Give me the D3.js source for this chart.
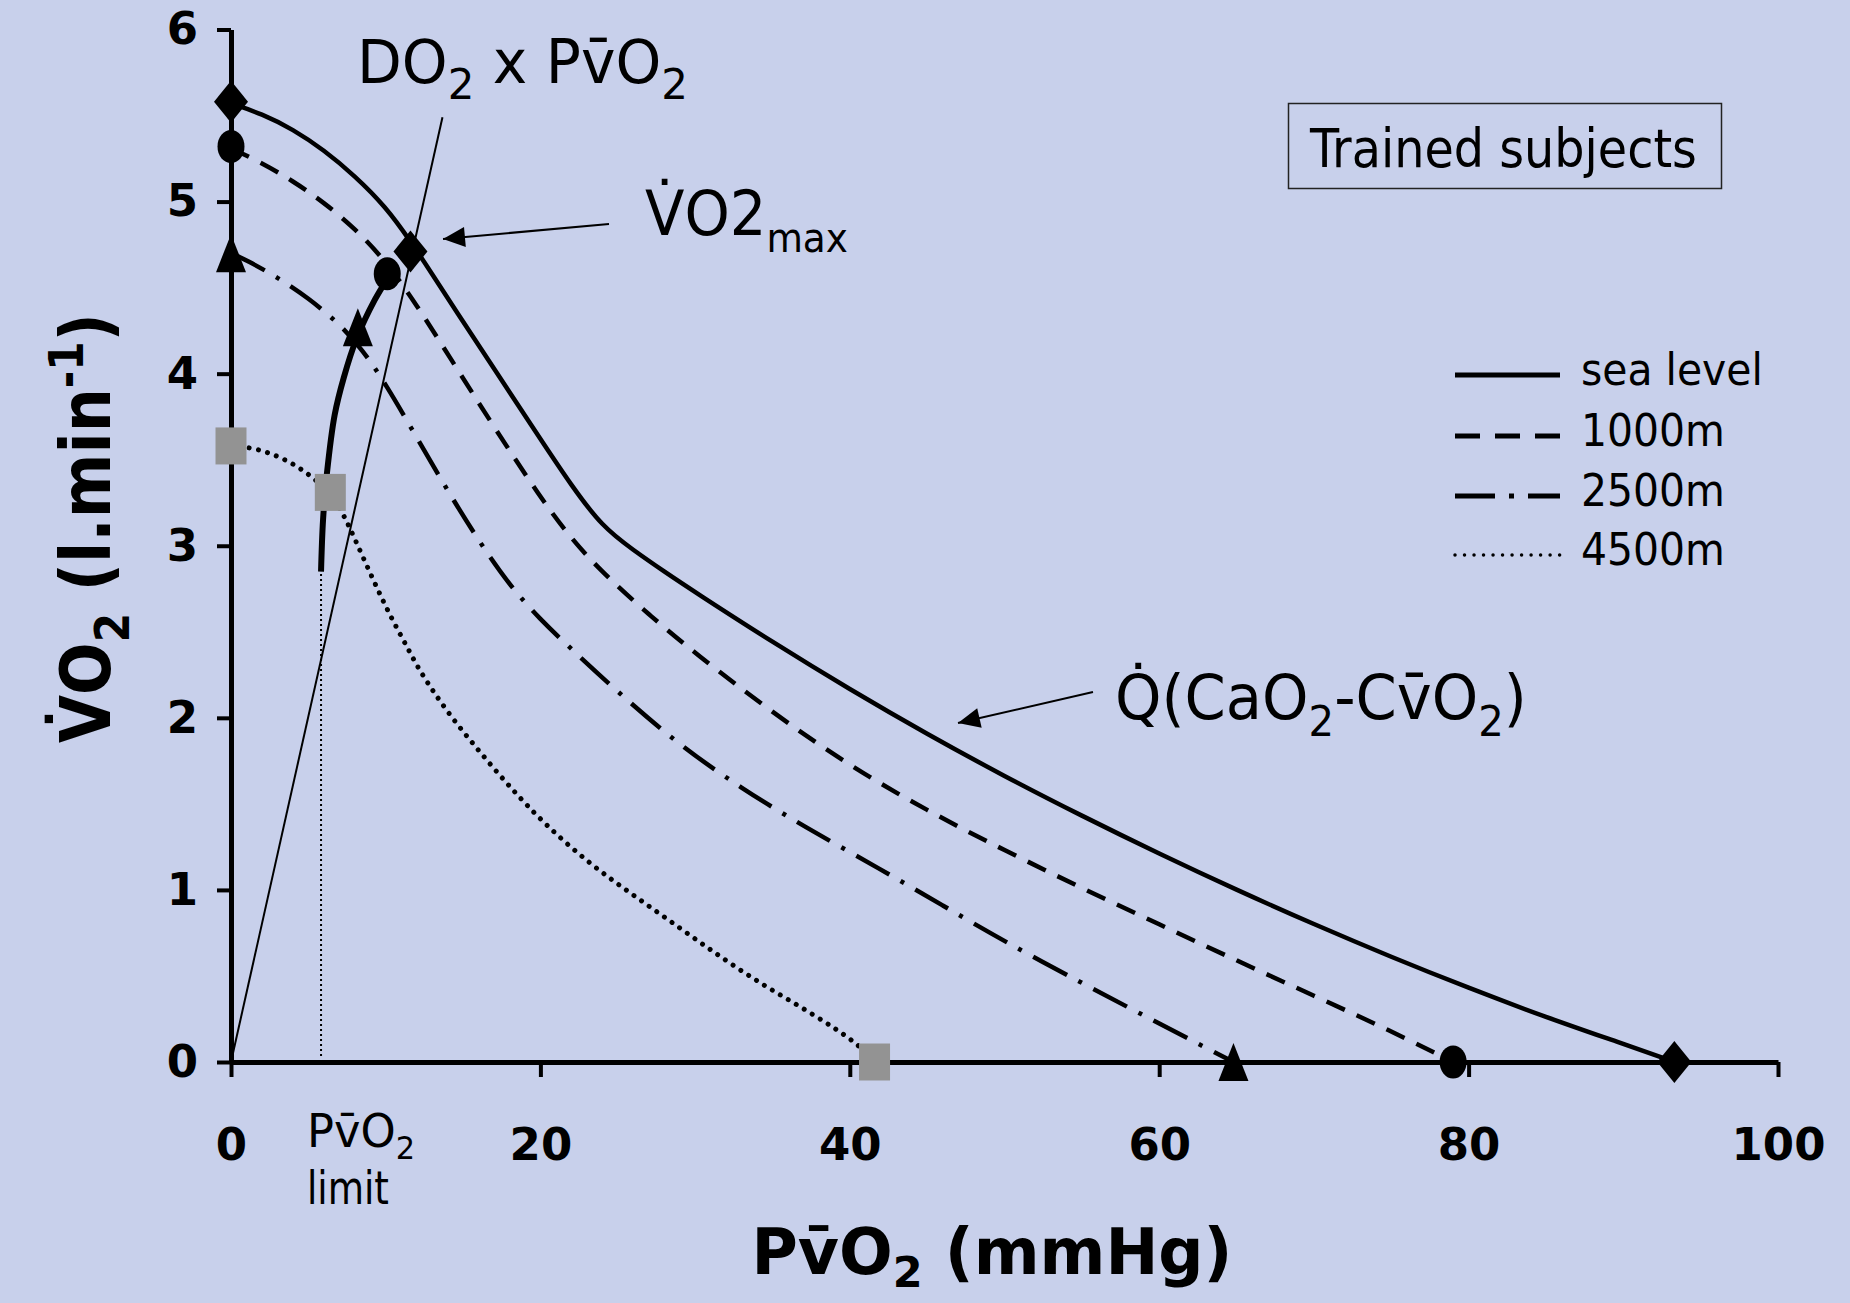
<!DOCTYPE html>
<html>
<head>
<meta charset="utf-8">
<script src="https://cdn.jsdelivr.net/npm/d3@7"></script>
<style>
  html, body { margin: 0; padding: 0; background: #C8D0EB; }
  svg { display: block; }
  text { font-family: "DejaVu Sans", sans-serif; fill: #000; }
</style>
</head>
<body>
<script>
// ---------------- DATA ----------------
const xTicks = [0, 20, 40, 60, 80, 100];
const yTicks = [0, 1, 2, 3, 4, 5, 6];

// VO2 vs PvO2 curves (Fick: Q(CaO2 - CvO2)) for each altitude
const seaLevel = [[0,5.57],[2,5.51],[4,5.42],[6,5.30],[8,5.15],[10,4.97],[11.6,4.77],[13,4.58],[14.5,4.37],[17,4.03],[20,3.62],[22,3.35],[24,3.11],[26,2.975],[28,2.85],[30,2.73],[35,2.44],[40,2.165],[45,1.905],[50,1.66],[55,1.43],[60,1.21],[65,1.00],[70,0.80],[75,0.61],[80,0.43],[85,0.26],[90,0.105],[93.3,0]];
const m1000 = [[0,5.31],[2,5.225],[4,5.12],[6,4.995],[8,4.845],[10,4.655],[12,4.40],[14,4.115],[17,3.69],[20,3.28],[22,3.04],[24,2.845],[27,2.60],[30,2.375],[35,2.03],[40,1.72],[45,1.46],[50,1.23],[55,1.01],[60,0.80],[65,0.59],[70,0.385],[75,0.18],[79,0]];
const m2500 = [[0,4.70],[1,4.66],[3,4.56],[5,4.44],[7,4.29],[8.5,4.14],[10,3.94],[12,3.63],[14,3.32],[16,3.03],[18,2.77],[20,2.57],[22,2.40],[25,2.15],[29,1.84],[33,1.59],[37,1.37],[42,1.12],[46,0.91],[50,0.70],[55,0.46],[59,0.27],[62,0.13],[64.8,0]];
const m4500 = [[0,3.58],[1.5,3.57],[3.4,3.51],[5,3.42],[6.4,3.31],[7.3,3.18],[8.1,3.02],[9.2,2.80],[10.3,2.59],[11.4,2.41],[12.2,2.27],[14,2.03],[16,1.81],[18,1.60],[20.3,1.38],[23.2,1.15],[26,0.97],[29,0.78],[31.8,0.60],[34.7,0.43],[37.6,0.28],[40.5,0.11],[41.6,0]];

// locus of VO2max (intersection with diffusion lines)
const maxLocus = [[5.82,2.85],[5.95,3.15],[6.2,3.42],[6.7,3.76],[7.3,3.98],[8.1,4.2],[9.3,4.43],[10.1,4.55]];
// diffusion line DO2 x PvO2
const diffusionLine = [[0,0],[13.67,5.49]];
// PvO2 limit
const pvo2Limit = 5.82;

// markers per altitude
const diamonds  = [[0,5.58],[11.6,4.71],[93.3,0]];
const circles   = [[0,5.32],[10.1,4.58],[79.0,0]];
const triangles = [[0,4.70],[8.2,4.27],[64.8,0]];
const squares   = [[0,3.58],[6.42,3.31],[41.6,0]];

const legendLabels = ["sea level", "1000m", "2500m", "4500m"];

// ---------------- LAYOUT ----------------
const W = 1850, H = 1303;
const svg = d3.select("body").append("svg").attr("width", W).attr("height", H);
svg.append("rect").attr("width", W).attr("height", H).attr("fill", "#C8D0EB");

const x = d3.scaleLinear().domain([0, 100]).range([231, 1778]);
const y = d3.scaleLinear().domain([0, 6]).range([1062, 29.5]);

// rich text helper
function rich(g, parts, fs, opts = {}) {
  const t = g.append("text").attr("x", 0).attr("y", 0)
    .style("font-size", fs + "px")
    .style("font-weight", opts.bold ? "bold" : "normal")
    .attr("text-anchor", opts.anchor || "start");
  let cur = 0;
  const subShift = opts.subShift || 0.27;
  parts.forEach(p => {
    const shift = p.sub ? fs * subShift : (p.sup ? -fs * 0.38 : 0);
    const ts = t.append("tspan").text(p.t).attr("dy", shift - cur);
    if (p.sub || p.sup) ts.style("font-size", (fs * (p.size || 0.68)) + "px");
    cur = shift;
  });
  return t;
}
function placeText(parts, fs, tx, ty, targetW, opts = {}) {
  const g = svg.append("g");
  const t = rich(g, parts, fs, opts);
  const bb = t.node().getBBox();
  const s = targetW ? targetW / bb.width : 1;
  const rot = opts.rotate ? ` rotate(${opts.rotate})` : "";
  g.attr("transform", `translate(${tx},${ty})${rot} scale(${s},1)`);
  return g;
}

// ---------------- AXES ----------------
const gx = svg.append("g").attr("transform", `translate(0,${y(0)})`)
  .call(d3.axisBottom(x).tickValues(xTicks).tickFormat(d3.format("d")).tickSize(15).tickSizeOuter(0).tickPadding(51));
const gy = svg.append("g").attr("transform", `translate(${x(0)},0)`)
  .call(d3.axisLeft(y).tickValues(yTicks).tickFormat(d3.format("d")).tickSize(14).tickSizeOuter(0).tickPadding(19));
[gx, gy].forEach(g => {
  g.select(".domain").attr("stroke", "#000").attr("stroke-width", 5);
  g.selectAll(".tick line").attr("stroke", "#000").attr("stroke-width", 4);
  g.selectAll(".tick text").style("font-size", "45px").style("font-weight", "bold")
    .style("font-family", "DejaVu Sans, sans-serif").attr("fill", "#000");
});

// ---------------- LINES ----------------
const line = d3.line().x(d => x(d[0])).y(d => y(d[1])).curve(d3.curveBasis);
const styles = [
  { data: seaLevel, dash: null, w: 4.5 },
  { data: m1000, dash: "20,13", w: 4.5 },
  { data: m2500, dash: "38,13,4,13", w: 4.5 },
  { data: m4500, dash: "0.01,9.3", w: 5, cap: "round" }
];
styles.forEach(s => {
  svg.append("path").attr("d", line(s.data)).attr("fill", "none")
    .attr("stroke", "#000").attr("stroke-width", s.w)
    .attr("stroke-dasharray", s.dash).attr("stroke-linecap", s.cap || "butt");
});

// PvO2 limit dotted vertical
svg.append("line").attr("x1", x(pvo2Limit)).attr("x2", x(pvo2Limit))
  .attr("y1", y(0) - 6).attr("y2", y(maxLocus[0][1]))
  .attr("stroke", "#000").attr("stroke-width", 2).attr("stroke-dasharray", "2,3");

// diffusion line
svg.append("path").attr("d", d3.line().x(d => x(d[0])).y(d => y(d[1]))(diffusionLine))
  .attr("fill", "none").attr("stroke", "#000").attr("stroke-width", 2);

// max locus thick curve
svg.append("path").attr("d", d3.line().x(d => x(d[0])).y(d => y(d[1])).curve(d3.curveCatmullRom)(maxLocus))
  .attr("fill", "none").attr("stroke", "#000").attr("stroke-width", 6).attr("stroke-linecap", "butt");

// ---------------- MARKERS ----------------
svg.selectAll(".dia").data(diamonds).join("path")
  .attr("d", d => { const cx = x(d[0]), cy = y(d[1]); return `M${cx},${cy-21}L${cx+17},${cy}L${cx},${cy+21}L${cx-17},${cy}Z`; })
  .attr("fill", "#000");
svg.selectAll(".cir").data(circles).join("ellipse")
  .attr("cx", d => x(d[0])).attr("cy", d => y(d[1])).attr("rx", 13.5).attr("ry", 16.5).attr("fill", "#000");
svg.selectAll(".tri").data(triangles).join("path")
  .attr("d", d => { const cx = x(d[0]), cy = y(d[1]); return `M${cx},${cy-19}L${cx+15},${cy+19}L${cx-15},${cy+19}Z`; })
  .attr("fill", "#000");
svg.selectAll(".sq").data(squares).join("rect")
  .attr("x", d => x(d[0]) - 15.5).attr("y", d => y(d[1]) - 18.5).attr("width", 31).attr("height", 37)
  .attr("fill", "#939393");

// ---------------- ARROWS ----------------
function arrow(x1, y1, x2, y2) {
  svg.append("line").attr("x1", x1).attr("y1", y1).attr("x2", x2).attr("y2", y2)
    .attr("stroke", "#000").attr("stroke-width", 2);
  const a = Math.atan2(y2 - y1, x2 - x1), L = 22, Wd = 10;
  const bx = x2 - L * Math.cos(a), by = y2 - L * Math.sin(a);
  const px = -Math.sin(a) * Wd, py = Math.cos(a) * Wd;
  svg.append("path").attr("d", `M${x2},${y2}L${bx+px},${by+py}L${bx-px},${by-py}Z`).attr("fill", "#000");
}
arrow(609, 224, 443, 239);
arrow(1093, 692, 958, 723);

// ---------------- TEXT ----------------
const OV = "v\u0304";
placeText([{t:"DO"},{t:"2",sub:true,size:0.72},{t:" x P" + OV + "O"},{t:"2",sub:true,size:0.72}], 60, 357, 83, 331);
placeText([{t:"V\u0307O2"},{t:"max",sub:true,size:0.65}], 62, 645, 235, 203);
placeText([{t:"Q\u0307(CaO"},{t:"2",sub:true},{t:"-C" + OV + "O"},{t:"2",sub:true},{t:")"}], 62, 1115, 719, 412);
placeText([{t:"P" + OV + "O"},{t:"2",sub:true}], 46, 307, 1147, 108);
placeText([{t:"limit"}], 46, 307, 1204, 82);

// box
svg.append("rect").attr("x", 1288.5).attr("y", 103.5).attr("width", 433).attr("height", 85)
  .attr("fill", "none").attr("stroke", "#222").attr("stroke-width", 1.5);
placeText([{t:"Trained subjects"}], 53, 1310, 167, 388);

// legend
const legY = [375, 436, 496, 555];
const legDash = [null, "25,15", "40,14,5,14", "0.01,9.5"];
legendLabels.forEach((lab, i) => {
  svg.append("line").attr("x1", 1455).attr("x2", 1560).attr("y1", legY[i]).attr("y2", legY[i])
    .attr("stroke", "#000").attr("stroke-width", i === 3 ? 3.5 : 5)
    .attr("stroke-dasharray", legDash[i]).attr("stroke-linecap", i === 3 ? "round" : "butt");
  placeText([{t: lab}], 44, 1581, legY[i] + 10, null).attr("transform", `translate(1581,${legY[i]+10}) scale(0.93,1)`);
});

// axis titles
placeText([{t:"P" + OV + "O"},{t:"2",sub:true},{t:" (mmHg)"}], 64, 992, 1274, 481, {bold: true, anchor: "middle", subShift: 0.2});
placeText([{t:"V\u0307O"},{t:"2",sub:true},{t:" (l.min"},{t:"-1",sup:true},{t:")"}], 70, 110, 528, 430, {bold: true, anchor: "middle", rotate: -90});
</script>
</body>
</html>
